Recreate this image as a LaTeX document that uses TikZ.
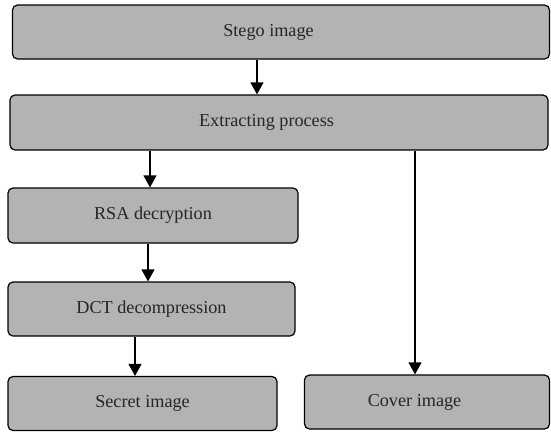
\documentclass[tikz,border=0pt]{standalone}
\usepackage{fontspec}
\setmainfont{Liberation Serif}
\usetikzlibrary{arrows.meta}
\definecolor{boxgray}{HTML}{B3B3B3}
\definecolor{txt}{HTML}{262626}
\newcommand{\shl}{\hspace*{-25pt}}
\begin{document}
\begin{tikzpicture}[x=1pt,y=-1pt,
  box/.style={draw=black,fill=boxgray,rounded corners=5pt,line width=1.2pt,
    inner sep=0pt,font=\fontsize{18.2}{21}\selectfont,text=txt},
  arr/.style={line width=1.2pt,-{Triangle[length=12pt,width=13pt]}}]
\useasboundingbox (0,0) rectangle (551,431);
\node[box,minimum width=537pt,minimum height=54pt] (stego) at (281,32) {\shl Stego image};
\node[box,minimum width=538pt,minimum height=55pt] (extract) at (279,122.5) {\shl Extracting process};
\node[box,minimum width=290pt,minimum height=55pt] (rsa) at (153,215.5) {RSA decryption};
\node[box,minimum width=287pt,minimum height=54pt] (dct) at (151.5,309) {DCT decompression};
\node[box,minimum width=269pt,minimum height=54pt] (secret) at (142.5,403.5) {Secret image};
\node[box,minimum width=245pt,minimum height=54pt] (cover) at (427,402) {\shl Cover image};
\coordinate (c1) at (257,0);
\coordinate (c2) at (150,0);
\coordinate (c3) at (148,0);
\coordinate (c4) at (135,0);
\coordinate (c5) at (415,0);
\draw[arr] (stego.south -| c1) -- (extract.north -| c1);
\draw[arr] (extract.south -| c2) -- (rsa.north -| c2);
\draw[arr] (rsa.south -| c3) -- (dct.north -| c3);
\draw[arr] (dct.south -| c4) -- (secret.north -| c4);
\draw[arr] (extract.south -| c5) -- (cover.north -| c5);
\end{tikzpicture}
\end{document}
